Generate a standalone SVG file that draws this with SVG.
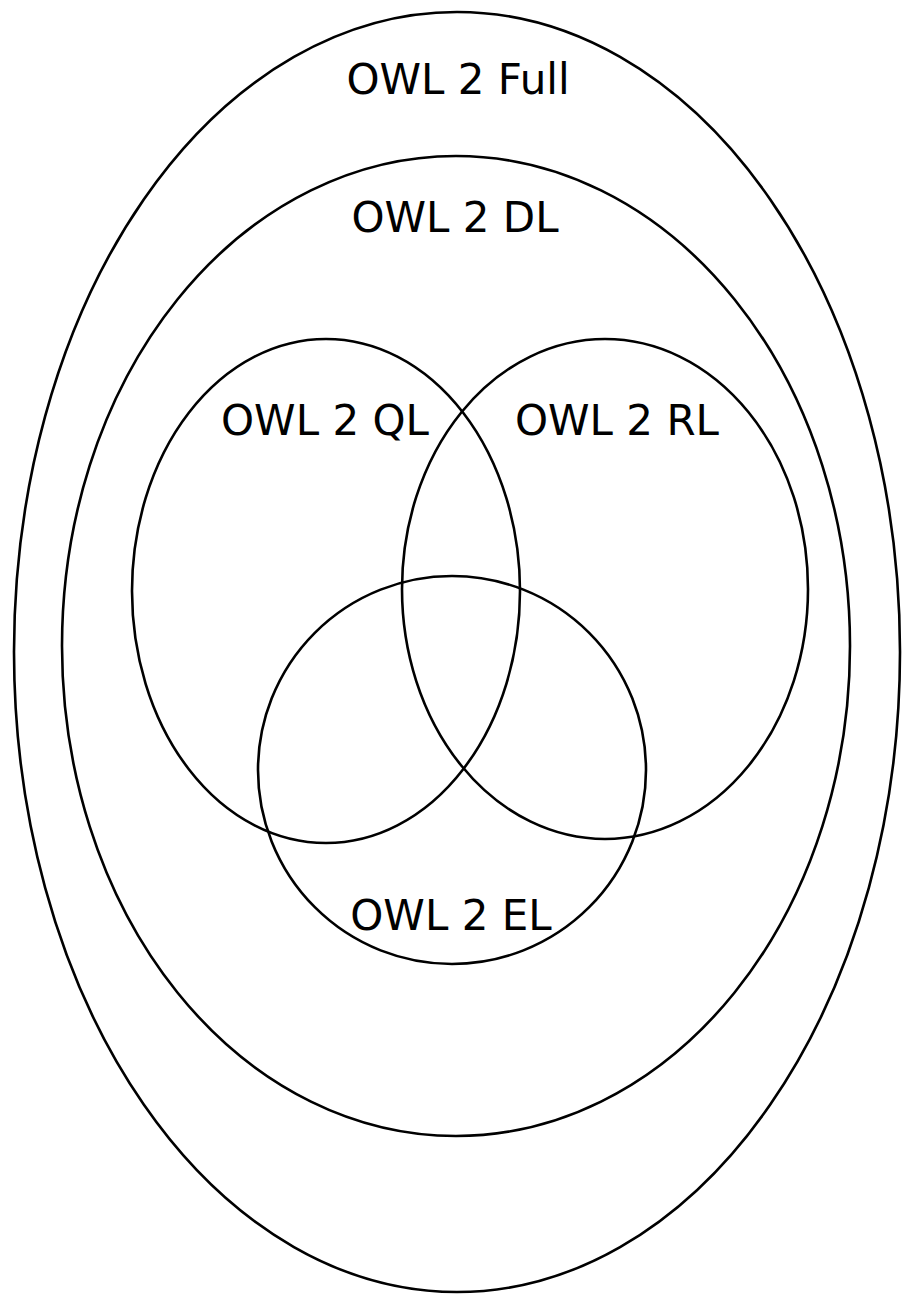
<svg xmlns="http://www.w3.org/2000/svg" width="902" height="1295" viewBox="0 0 902 1295">
<style>
.s{fill:none;stroke:#000;stroke-width:2.6}
.t{font-family:"DejaVu Sans",sans-serif;font-size:42px;fill:#000;text-anchor:middle}
</style>
<rect width="902" height="1295" fill="#fff"/>
<g id="full"><ellipse class="s" cx="457" cy="652" rx="443" ry="640"/><text class="t" x="458" y="94">OWL 2 Full</text></g>
<g id="dl"><ellipse class="s" cx="456" cy="646" rx="394" ry="490"/><text class="t" x="455" y="232">OWL 2 DL</text></g>
<g id="ql"><ellipse class="s" cx="326" cy="591" rx="194" ry="252"/><text class="t" x="325" y="435">OWL 2 QL</text></g>
<g id="rl"><ellipse class="s" cx="605" cy="589" rx="203" ry="250"/><text class="t" x="617" y="435">OWL 2 RL</text></g>
<g id="el"><ellipse class="s" cx="452" cy="770" rx="194" ry="194"/><text class="t" x="451" y="930">OWL 2 EL</text></g>
<g id="connectors"/>
</svg>
